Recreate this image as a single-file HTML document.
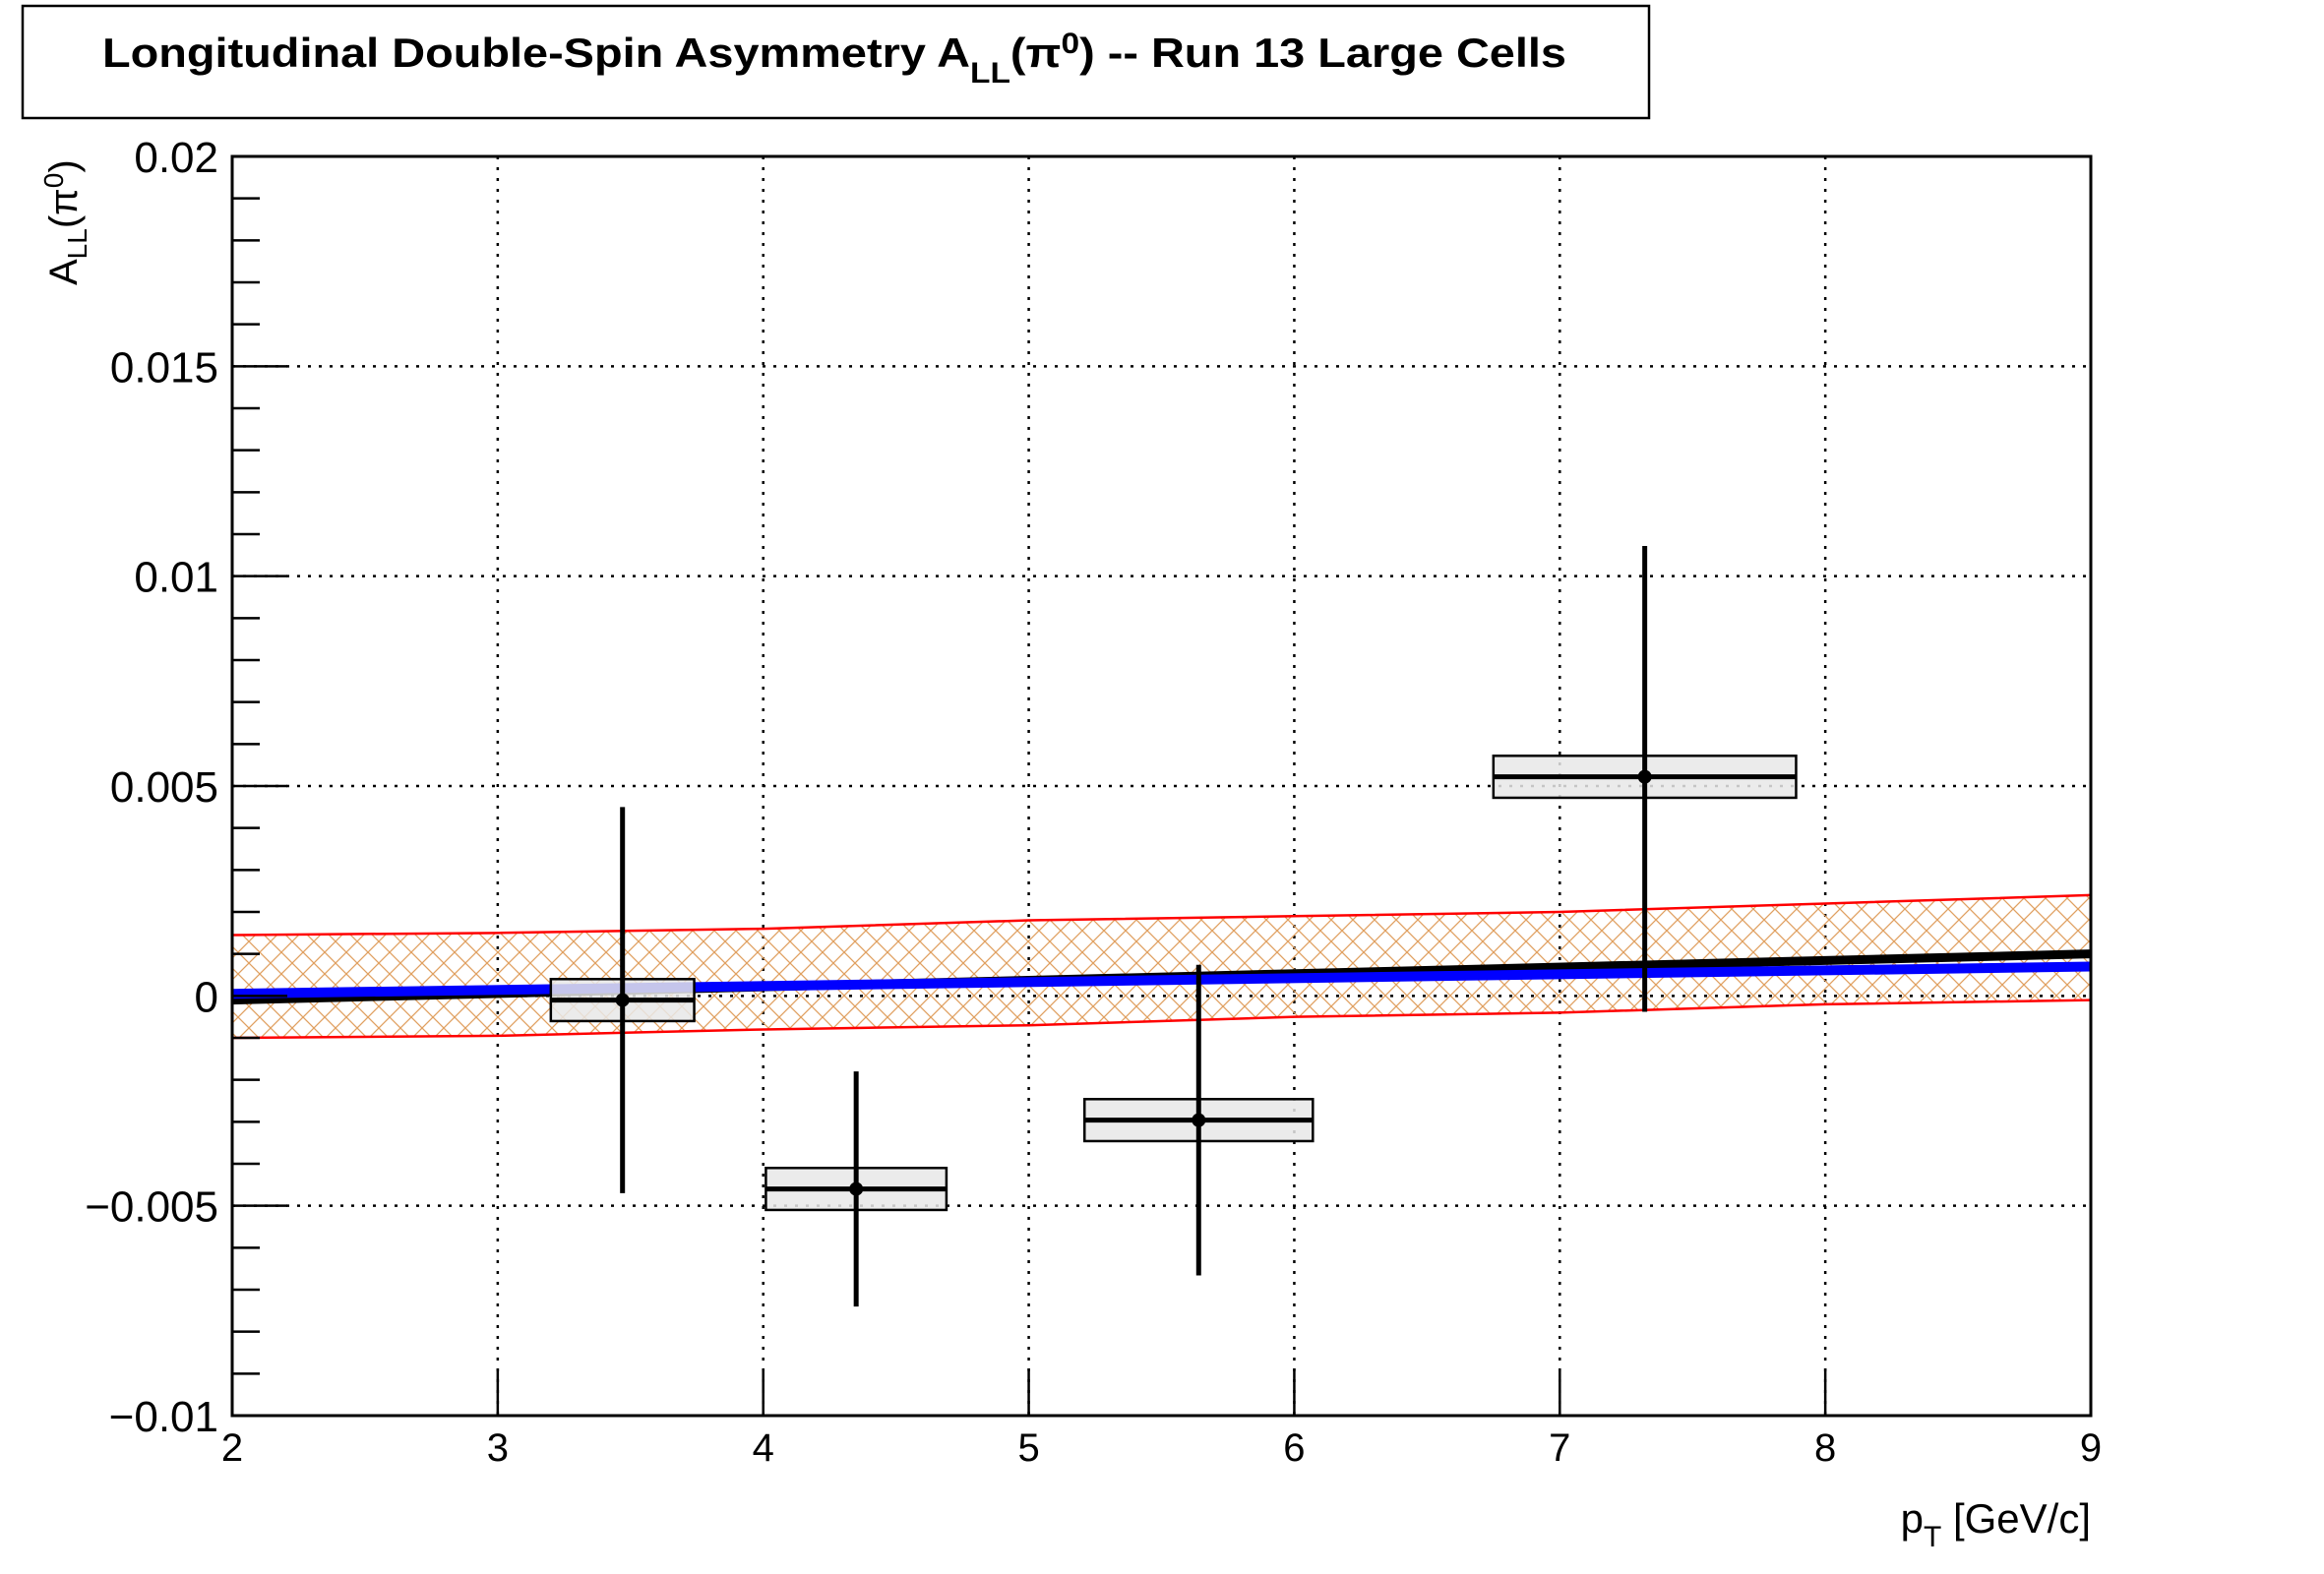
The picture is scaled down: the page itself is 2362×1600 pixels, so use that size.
<!DOCTYPE html>
<html><head><meta charset="utf-8"><style>html,body{margin:0;padding:0;background:#fff}svg{display:block}</style></head>
<body>
<svg id="chart" width="2362" height="1600" viewBox="0 0 2362 1600" xmlns="http://www.w3.org/2000/svg" font-family="Liberation Sans, sans-serif">
<defs>
<pattern id="hatch" patternUnits="userSpaceOnUse" width="22" height="22">
<path d="M0,0 L22,22 M22,0 L0,22" stroke="#e0a060" stroke-width="1.3"/>
</pattern>
</defs>
<rect x="23" y="6" width="1653" height="114" fill="#fff" stroke="#000" stroke-width="2.5"/>
<text x="104" y="68" font-size="42" font-weight="bold" textLength="1488" lengthAdjust="spacingAndGlyphs">Longitudinal Double-Spin Asymmetry A<tspan font-size="30" dy="16">LL</tspan><tspan dy="-16">(π</tspan><tspan font-size="30" dy="-14">0</tspan><tspan dy="14">) -- Run 13 Large Cells</tspan></text>
<g id="grid"></g>
<g id="band"></g>
<g id="fits"></g>
<g id="points"></g>
<g id="axes"></g>
<text transform="translate(78,290) rotate(-90)" font-size="40">A<tspan font-size="28" dy="10">LL</tspan><tspan dy="-10">(π</tspan><tspan font-size="28" dy="-14">0</tspan><tspan dy="14">)</tspan></text>
<text x="2125" y="1558" font-size="42" text-anchor="end">p<tspan font-size="30" dy="14">T</tspan><tspan dy="-14"> [GeV/c]</tspan></text>
</svg>
<script>
const xTicks = [2,3,4,5,6,7,8,9];
const yTicks = [-0.01,-0.005,0,0.005,0.01,0.015,0.02];
const yTickLabels = ["\u22120.01","\u22120.005","0","0.005","0.01","0.015","0.02"];
const ptValues = [3.47, 4.35, 5.64, 7.32];
const allValues = [-0.0001, -0.0046, -0.00296, 0.00522];
const statUp = [0.0046, 0.0028, 0.0037, 0.0055];
const statDown = [0.0046, 0.0028, 0.0037, 0.0056];
const sysErr = [0.0005, 0.0005, 0.0005, 0.0005];
const binHalfWidth = [0.27, 0.34, 0.43, 0.57];
const bandX = [2,3,4,5,6,7,8,9];
const bandUpper = [0.00145,0.0015,0.0016,0.0018,0.0019,0.002,0.0022,0.0024];
const bandLower = [-0.001,-0.00095,-0.0008,-0.0007,-0.0005,-0.0004,-0.0002,-0.0001];
const blackFit = [[2,-0.0001],[9,0.001]];
const blueFit = [[2,0.00005],[9,0.0007]];

const X0=236,X1=2125,Y0=159,Y1=1439;
const xs = v => X0 + (v-2)/(9-2)*(X1-X0);
const ys = v => Y0 + (0.02-v)/0.03*(Y1-Y0);
const NS="http://www.w3.org/2000/svg";
function mk(parent, tag, attrs){const e=document.createElementNS(NS,tag);for(const k in attrs)e.setAttribute(k,attrs[k]);parent.appendChild(e);return e;}

const grid=document.getElementById('grid');
xTicks.slice(1,-1).forEach(t=>{
  const l=mk(grid,'line',{x1:xs(t),x2:xs(t),y1:Y0,y2:Y1,stroke:'#000','stroke-width':2.5,'stroke-dasharray':'3,8'});
  
  
});
yTicks.slice(1,-1).forEach(t=>{
  const l=mk(grid,'line',{x1:X0,x2:X1,y1:ys(t),y2:ys(t),stroke:'#000','stroke-width':2.5,'stroke-dasharray':'3,8'});
  
  
});

const band=document.getElementById('band');
let d='';
bandX.forEach((x,i)=>{d+=(i?'L':'M')+xs(x)+','+ys(bandUpper[i]);});
for(let i=bandX.length-1;i>=0;i--){d+='L'+xs(bandX[i])+','+ys(bandLower[i]);}
const bp=mk(band,'path',{d:d+'Z',fill:'url(#hatch)',stroke:'none'});


const up=mk(band,'polyline',{points:bandX.map((x,i)=>xs(x)+','+ys(bandUpper[i])).join(' '),fill:'none',stroke:'#ff0000','stroke-width':2.5});


const lo=mk(band,'polyline',{points:bandX.map((x,i)=>xs(x)+','+ys(bandLower[i])).join(' '),fill:'none',stroke:'#ff0000','stroke-width':2.5});



const fits=document.getElementById('fits');
const bf=mk(fits,'line',{x1:xs(blackFit[0][0]),y1:ys(blackFit[0][1]),x2:xs(blackFit[1][0]),y2:ys(blackFit[1][1]),stroke:'#000','stroke-width':9});


const bl=mk(fits,'line',{x1:xs(blueFit[0][0]),y1:ys(blueFit[0][1]),x2:xs(blueFit[1][0]),y2:ys(blueFit[1][1]),stroke:'#0000ff','stroke-width':10});



const pts=document.getElementById('points');
ptValues.forEach((x,i)=>{
  const y=allValues[i];
  const g=mk(pts,'g',{});
  
  
  const r=mk(g,'rect',{x:xs(x-binHalfWidth[i]),y:ys(y+sysErr[i]),width:xs(x+binHalfWidth[i])-xs(x-binHalfWidth[i]),height:ys(y-sysErr[i])-ys(y+sysErr[i]),fill:'#e8e8e8','fill-opacity':0.85,stroke:'#000','stroke-width':2.5});
  
  
  const h=mk(g,'line',{x1:xs(x-binHalfWidth[i]),x2:xs(x+binHalfWidth[i]),y1:ys(y),y2:ys(y),stroke:'#000','stroke-width':5});
  
  
  const v=mk(g,'line',{x1:xs(x),x2:xs(x),y1:ys(y+statUp[i]),y2:ys(y-statDown[i]),stroke:'#000','stroke-width':5});
  
  
  const c=mk(g,'circle',{cx:xs(x),cy:ys(y),r:7,fill:'#000'});
  
  
});

const axes=document.getElementById('axes');
const fr=mk(axes,'rect',{x:X0,y:Y0,width:X1-X0,height:Y1-Y0,fill:'none',stroke:'#000','stroke-width':3});


for(let k=0;k<=30;k++){
  const v=-0.01+k*0.001;
  const major=(k%5===0);
  const t=mk(axes,'line',{x1:X0,x2:X0+(major?56:28),y1:ys(v),y2:ys(v),stroke:'#000','stroke-width':2.5});
  
  
}
yTicks.forEach((t,i)=>{
  const tx=mk(axes,'text',{x:222,y:ys(t)+16,'font-size':44,'text-anchor':'end'});
  tx.textContent=yTickLabels[i];
  
  
});
xTicks.forEach(t=>{
  const l=mk(axes,'line',{x1:xs(t),x2:xs(t),y1:Y1,y2:Y1-48,stroke:'#000','stroke-width':2.5});
  
  
  const tx=mk(axes,'text',{x:xs(t),y:1485,'font-size':40,'text-anchor':'middle'});
  tx.textContent=String(t);
  
  
});
</script>
</body></html>
